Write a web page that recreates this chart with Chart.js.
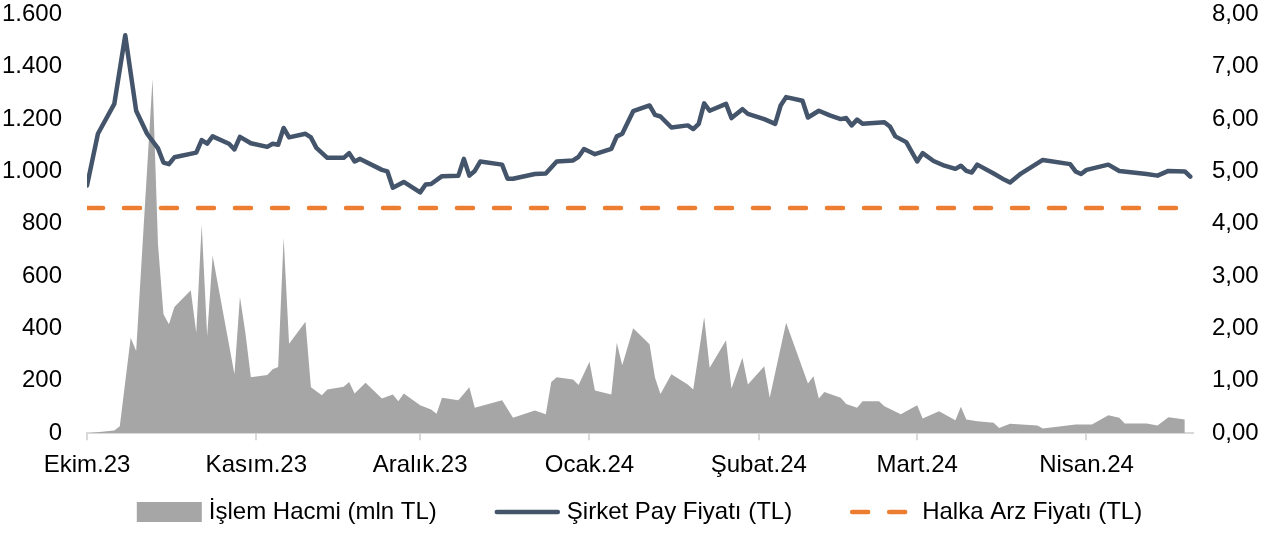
<!DOCTYPE html>
<html lang="tr">
<head>
<meta charset="utf-8">
<title>İşlem Hacmi ve Pay Fiyatı</title>
<script src="https://cdn.jsdelivr.net/npm/chart.js@4.4.1/dist/chart.umd.min.js"></script>
<style>
  html, body { margin: 0; padding: 0; background: #fff; }
  .chart-box { width: 1287px; height: 533px; position: relative; }
</style>
</head>
<body>
<div class="chart-box"><canvas id="priceChart"></canvas></div>
<script>
// days counted from 1 Oct 2023
const monthStartDays = [0, 31, 61, 92, 123, 152, 183];
const monthLabels = ["Ekim.23", "Kasım.23", "Aralık.23", "Ocak.24", "Şubat.24", "Mart.24", "Nisan.24"];

// islem hacmi (mln TL)
const volDays = [0,5,6,8,9,12,13,14,15,16,19,20,21,22,23,27,28,29,30,33,34,35,36,37,40,41,43,44,47,48,49,51,54,56,57,58,61,63,64,65,68,70,71,76,78,82,84,85,86,89,90,92,93,96,97,98,100,103,104,105,107,110,111,113,114,117,118,120,121,124,125,128,132,133,134,135,138,139,141,142,145,146,149,152,153,156,159,160,161,163,166,167,169,174,175,181,184,187,189,190,194,196,198,201];
const volumes = [0,10,27,365,314,1354,722,454,416,482,546,384,796,371,678,225,521,384,214,222,244,253,748,342,426,176,145,167,177,196,152,193,133,148,122,152,107,91,74,135,126,176,97,126,59,87,72,196,214,205,184,273,163,148,346,260,401,340,212,150,225,186,167,444,250,355,171,288,186,256,135,422,190,218,133,157,135,112,97,122,122,103,72,107,56,84,49,101,52,46,40,20,36,29,18,33,33,69,59,37,37,29,61,52];

// sirket pay fiyati (TL)
const priceDays = [0,2,5,7,9,11,13,14,15,16,20,21,22,23,26,27,28,30,33,34,35,36,37,40,41,42,44,47,48,49,50,54,55,56,58,61,62,63,65,68,69,70,71,72,76,77,78,82,84,86,89,90,91,93,96,97,98,100,103,104,105,107,110,111,112,113,114,117,118,120,121,124,126,127,128,131,132,134,136,138,139,140,141,142,146,147,148,150,152,153,155,157,159,160,161,162,163,166,168,169,171,175,180,181,182,183,187,189,194,196,198,201,202];
const prices = [4.73,5.72,6.29,7.60,6.16,5.72,5.44,5.17,5.14,5.27,5.36,5.60,5.53,5.67,5.53,5.42,5.66,5.54,5.47,5.53,5.51,5.83,5.65,5.72,5.65,5.45,5.26,5.26,5.35,5.19,5.24,5.03,5.00,4.69,4.80,4.60,4.75,4.76,4.91,4.92,5.24,4.92,5.01,5.19,5.13,4.86,4.86,4.95,4.96,5.19,5.21,5.28,5.43,5.33,5.43,5.67,5.72,6.15,6.26,6.08,6.05,5.84,5.88,5.81,5.91,6.30,6.16,6.29,6.02,6.19,6.10,6.00,5.91,6.26,6.42,6.35,6.03,6.16,6.07,6.00,6.02,5.88,5.99,5.91,5.94,5.86,5.67,5.56,5.19,5.35,5.20,5.11,5.05,5.11,5.01,4.98,5.13,4.96,4.84,4.79,4.96,5.22,5.14,5.00,4.95,5.03,5.13,5.01,4.95,4.92,5.01,5.00,4.90];

// halka arz fiyati (TL)
const ipoDays = [0, 202];
const ipoPrice = [4.30, 4.30];

const toPoints = (xs, ys) => xs.map((x, i) => ({ x: x, y: ys[i] }));

const fontFamily = "'Liberation Sans', Arial, sans-serif";
Chart.defaults.font.family = fontFamily;
Chart.defaults.font.size = 24;
Chart.defaults.color = "#000";

// legend drawn under the axis, spacing like the original
const bottomLegend = {
  id: "bottomLegend",
  afterDraw(chart) {
    const ctx = chart.ctx;
    const sets = chart.data.datasets;
    const boxW = 65, textGap = 7, itemGap = 58;
    ctx.save();
    ctx.font = "24px " + fontFamily;
    const widths = sets.map(ds => boxW + textGap + ctx.measureText(ds.label).width);
    const total = widths.reduce((a, b) => a + b, 0) + itemGap * (sets.length - 1);
    let x = (chart.width - total) / 2 - 4;
    const y = chart.height - 21;
    sets.forEach((ds, i) => {
      if (ds.fill) {
        ctx.fillStyle = ds.backgroundColor;
        ctx.fillRect(x, y - 10, boxW, 20);
      } else {
        ctx.beginPath();
        ctx.strokeStyle = ds.borderColor;
        ctx.lineWidth = ds.borderWidth;
        ctx.lineCap = ds.borderCapStyle || "butt";
        ctx.setLineDash(ds.borderDash || []);
        ctx.moveTo(x + 2, y);
        ctx.lineTo(x + boxW - 2, y);
        ctx.stroke();
        ctx.setLineDash([]);
      }
      ctx.fillStyle = "#000";
      ctx.textBaseline = "middle";
      ctx.textAlign = "left";
      ctx.fillText(ds.label, x + boxW + textGap, y);
      x += widths[i] + itemGap;
    });
    ctx.restore();
  }
};

const ctx = document.getElementById("priceChart").getContext("2d");

const priceChart = new Chart(ctx, {
  type: "line",
  data: {
    datasets: [{
      label: "İşlem Hacmi (mln TL)",
      data: toPoints(volDays, volumes),
      yAxisID: "yVol",
      fill: "origin",
      backgroundColor: "#a6a6a6",
      borderWidth: 0,
      pointRadius: 0,
      tension: 0,
      order: 3
    }, {
      label: "Şirket Pay Fiyatı (TL)",
      data: toPoints(priceDays, prices),
      yAxisID: "yPrice",
      fill: false,
      borderColor: "#44546a",
      borderWidth: 4.5,
      borderJoinStyle: "round",
      borderCapStyle: "round",
      pointRadius: 0,
      tension: 0,
      order: 1
    }, {
      label: "Halka Arz Fiyatı (TL)",
      data: toPoints(ipoDays, ipoPrice),
      yAxisID: "yPrice",
      fill: false,
      borderColor: "#ed7d31",
      borderWidth: 4.5,
      borderDash: [16, 21],
      borderCapStyle: "round",
      pointRadius: 0,
      order: 2
    }]
  },
  options: {
    responsive: true,
    maintainAspectRatio: false,
    animation: false,
    events: [],
    layout: { padding: { top: 0, bottom: 42 } },
    plugins: {
      legend: { display: false },
      tooltip: { enabled: false }
    },
    scales: {
      x: {
        type: "linear",
        min: 0,
        max: 202.5,
        afterBuildTicks: (scale) => {
          scale.ticks = monthStartDays.map(v => ({ value: v }));
        },
        ticks: {
          autoSkip: false,
          maxRotation: 0,
          padding: 11,
          callback: (value, index) => monthLabels[index]
        },
        grid: {
          drawOnChartArea: false,
          drawTicks: true,
          tickLength: 7,
          color: "#d9d9d9",
          lineWidth: 2
        },
        border: { display: true, color: "#d9d9d9", width: 2 }
      },
      yVol: {
        position: "left",
        min: 0,
        max: 1600,
        afterFit: (scale) => { scale.width = 87; },
        ticks: {
          stepSize: 200,
          padding: 0,
          callback: (v) => String(v).replace(/(\d)(\d{3})$/, "$1.$2")
        },
        // hidden tick marks keep the labels off the plot
        grid: { display: false, drawTicks: true, tickLength: 25 },
        border: { display: false }
      },
      yPrice: {
        position: "right",
        min: 0,
        max: 8,
        afterFit: (scale) => { scale.width = 94; },
        ticks: {
          stepSize: 1,
          padding: 0,
          callback: (v) => v.toFixed(2).replace(".", ",")
        },
        grid: { display: false, drawTicks: true, tickLength: 19 },
        border: { display: false }
      }
    }
  },
  plugins: [bottomLegend]
});
</script>
</body>
</html>
